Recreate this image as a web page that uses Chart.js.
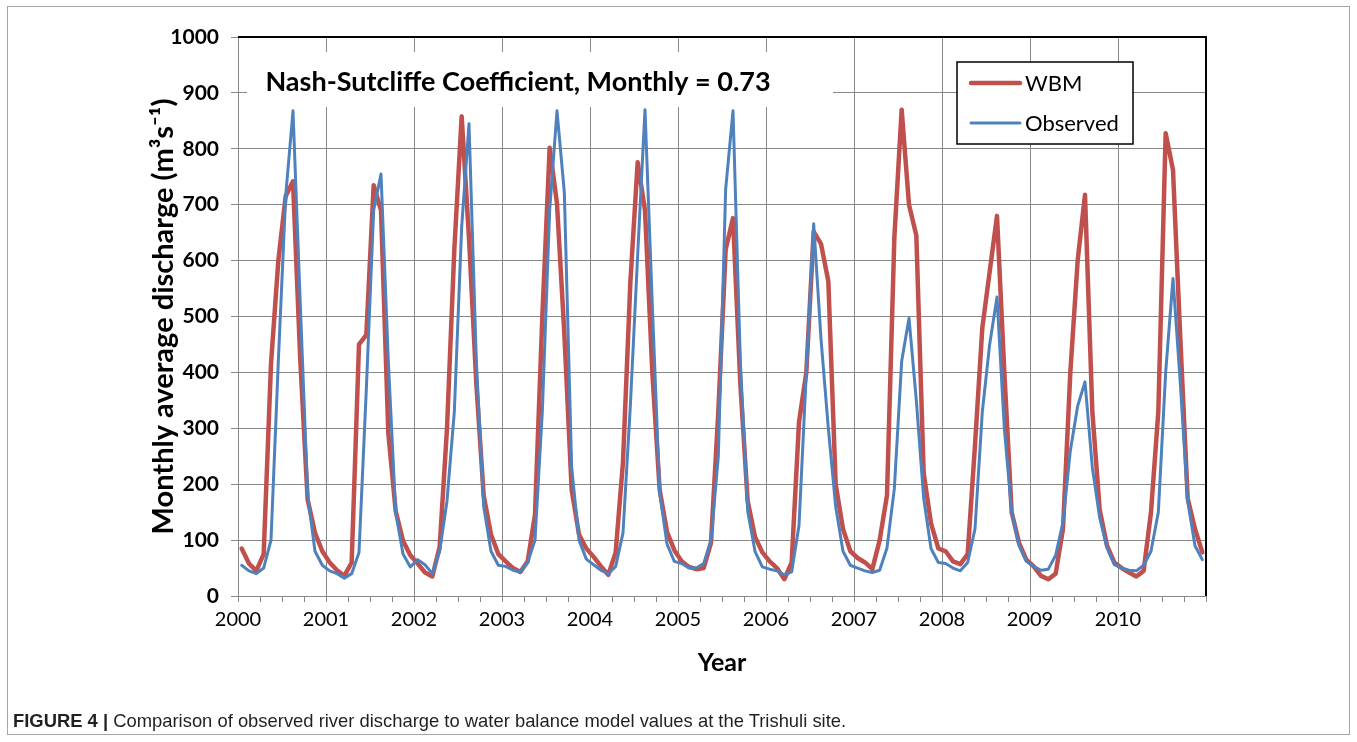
<!DOCTYPE html>
<html>
<head>
<meta charset="utf-8">
<script src="https://cdn.jsdelivr.net/npm/chart.js@4.4.1/dist/chart.umd.min.js"></script>
<style>
  html, body { margin: 0; padding: 0; background: #ffffff; }
  #wrap { position: relative; width: 1357px; height: 742px; overflow: hidden; background: #ffffff; }
  #frame { position: absolute; left: 7px; top: 6px; width: 1343px; height: 729px; border: 1px solid #a6a6a6; box-sizing: border-box; }
  #chart { position: absolute; left: 0; top: 0; }
  #caption { position: absolute; left: 13px; top: 710px; line-height: 22px; font-family: "Liberation Sans", Arial, sans-serif; font-size: 18.4px; color: #231f20; white-space: nowrap; }
  #caption b { font-weight: 700; }
</style>
</head>
<body>
<div id="wrap">
  <div id="frame"></div>
  <canvas id="chart" width="1357" height="742"></canvas>
  <div id="caption"><b>FIGURE 4 |</b> Comparison of observed river discharge to water balance model values at the Trishuli site.</div>
</div>
<script>
// Monthly average discharge at Trishuli, Jan 2000 - Dec 2010 (m3/s)
const years = [2000, 2001, 2002, 2003, 2004, 2005, 2006, 2007, 2008, 2009, 2010];

const wbmDischarge = [
  85, 58, 45, 75, 415, 600, 715, 742, 420, 172, 113, 80,   // 2000
  60, 46, 36, 60, 450, 467, 735, 690, 291, 152, 99, 73,    // 2001
  58, 42, 35, 88, 300, 620, 858, 640, 380, 180, 110, 75,   // 2002
  62, 50, 43, 62, 145, 500, 802, 702, 470, 190, 110, 85,   // 2003
  70, 53, 38, 78, 240, 560, 776, 690, 400, 190, 115, 82,   // 2004
  62, 52, 48, 50, 95, 330, 620, 676, 380, 170, 106, 78,    // 2005
  62, 50, 30, 60, 311, 400, 652, 630, 563, 200, 120, 80,   // 2006
  68, 60, 48, 100, 180, 640, 870, 700, 645, 220, 130, 85,  // 2007
  80, 62, 57, 75, 270, 480, 580, 680, 400, 150, 95, 65,    // 2008
  53, 36, 30, 40, 120, 400, 600, 718, 330, 155, 90, 60,    // 2009
  50, 42, 35, 45, 150, 330, 828, 762, 460, 175, 120, 78    // 2010
];

const observedDischarge = [
  55, 45, 40, 50, 100, 420, 715, 868, 520, 180, 80, 55,    // 2000
  45, 40, 32, 40, 78, 370, 690, 755, 420, 150, 75, 52,     // 2001
  65, 56, 40, 80, 170, 330, 660, 845, 420, 160, 80, 55,    // 2002
  53, 46, 43, 60, 100, 330, 690, 868, 722, 230, 100, 66,   // 2003
  56, 46, 40, 53, 113, 340, 610, 870, 520, 185, 93, 62,    // 2004
  58, 50, 50, 58, 100, 250, 728, 868, 420, 152, 80, 52,    // 2005
  48, 45, 38, 43, 126, 400, 666, 460, 300, 160, 80, 55,    // 2006
  50, 45, 42, 46, 86, 192, 420, 497, 350, 175, 85, 60,     // 2007
  58, 50, 45, 60, 120, 330, 450, 535, 300, 150, 90, 62,    // 2008
  53, 46, 48, 73, 132, 260, 340, 383, 230, 140, 86, 56,    // 2009
  50, 46, 45, 55, 80, 150, 400, 568, 380, 170, 90, 65      // 2010
];

const yTickValues = [0, 100, 200, 300, 400, 500, 600, 700, 800, 900, 1000];
const nashSutcliffeMonthly = 0.73;

const MONTHS = 12;
const TOTAL_MONTHS = years.length * MONTHS;
const FONT = "Lato, 'Open Sans', 'DejaVu Sans', sans-serif";
const GRID = '#878787';
const RED = '#c0504d';
const BLUE = '#4f81bd';

// each month is plotted at the middle of its slot on a month-count axis
const toPoints = arr => arr.map((v, i) => ({ x: i + 0.5, y: v }));

const series = [
  { label: 'WBM', values: wbmDischarge, color: RED, width: 4.5 },
  { label: 'Observed', values: observedDischarge, color: BLUE, width: 3 }
];

// white text box with the efficiency score
const scoreBox = {
  id: 'scoreBox',
  beforeDatasetsDraw(chart) {
    const { ctx } = chart;
    ctx.save();
    ctx.fillStyle = '#ffffff';
    ctx.fillRect(247, 52, 586, 55);
    ctx.fillStyle = '#000000';
    ctx.font = `bold 27px ${FONT}`;
    ctx.textAlign = 'center';
    ctx.textBaseline = 'middle';
    ctx.fillText('Nash-Sutcliffe Coefficient, Monthly = ' + nashSutcliffeMonthly.toFixed(2), 518, 82);
    ctx.restore();
  }
};

// black frame on the top and right sides of the plot area
const plotFrame = {
  id: 'plotFrame',
  afterDatasetsDraw(chart) {
    const { ctx, chartArea: a } = chart;
    ctx.save();
    ctx.strokeStyle = '#000000';
    ctx.lineWidth = 2;
    ctx.beginPath();
    ctx.moveTo(a.left, a.top);
    ctx.lineTo(a.right, a.top);
    ctx.lineTo(a.right, a.bottom);
    ctx.stroke();
    ctx.restore();
  }
};

// boxed legend inside the plot area
const boxLegend = {
  id: 'boxLegend',
  afterDatasetsDraw(chart) {
    const { ctx } = chart;
    const x0 = 957, y0 = 62, w = 176, h = 82;
    ctx.save();
    ctx.fillStyle = '#ffffff';
    ctx.fillRect(x0, y0, w, h);
    ctx.strokeStyle = '#000000';
    ctx.lineWidth = 1.5;
    ctx.strokeRect(x0, y0, w, h);
    ctx.font = `22px ${FONT}`;
    ctx.textAlign = 'left';
    ctx.textBaseline = 'middle';
    chart.data.datasets.slice().sort((a, b) => a.legendIndex - b.legendIndex).forEach((ds, i) => {
      const yy = y0 + 21 + i * 40;
      ctx.strokeStyle = ds.borderColor;
      ctx.lineWidth = ds.borderWidth;
      ctx.lineCap = 'round';
      ctx.beginPath();
      ctx.moveTo(971, yy);
      ctx.lineTo(1020, yy);
      ctx.stroke();
      ctx.fillStyle = '#000000';
      ctx.fillText(ds.label, 1025, yy + 1);
    });
    ctx.restore();
  }
};

new Chart(document.getElementById('chart'), {
  type: 'line',
  data: {
    datasets: series.map((s, i) => ({
      label: s.label,
      legendIndex: i,
      data: toPoints(s.values),
      borderColor: s.color,
      backgroundColor: s.color,
      borderWidth: s.width,
      pointRadius: 0,
      tension: 0,
      fill: false,
      borderJoinStyle: 'round',
      borderCapStyle: 'round',
      order: series.length - 1 - i
    }))
  },
  options: {
    responsive: false,
    devicePixelRatio: 1,
    animation: false,
    events: [],
    layout: { padding: { left: 146, right: 151, top: 37, bottom: 64 } },
    plugins: { legend: { display: false }, tooltip: { enabled: false }, title: { display: false } },
    scales: {
      x: {
        type: 'linear',
        min: 0,
        max: TOTAL_MONTHS,
        afterBuildTicks(scale) {
          const t = [];
          for (let v = 0; v <= TOTAL_MONTHS; v += 3) t.push({ value: v });
          scale.ticks = t;
        },
        afterFit(scale) { scale.height = 82; },
        ticks: {
          autoSkip: false,
          maxRotation: 0,
          padding: 6,
          color: '#000000',
          font: { family: FONT, size: 20 },
          callback(v) {
            const idx = v / MONTHS;
            return (v % MONTHS === 0 && idx < years.length) ? String(years[idx]) : '';
          }
        },
        grid: {
          color: c => (c.tick && c.tick.value % MONTHS === 0) ? GRID : 'rgba(0,0,0,0)',
          tickColor: GRID,
          tickLength: 6,
          lineWidth: 1
        },
        border: { color: GRID, width: 1 },
        title: { display: true, text: 'Year', color: '#000000', padding: 0, font: { family: FONT, size: 25, weight: 'bold' } }
      },
      y: {
        min: 0,
        max: 1000,
        afterBuildTicks(scale) { scale.ticks = yTickValues.map(v => ({ value: v })); },
        afterFit(scale) { scale.width = 92; },
        ticks: {
          padding: 12,
          color: '#000000',
          font: { family: FONT, size: 21, weight: 'bold' },
          callback: v => String(v)
        },
        grid: { color: GRID, tickColor: GRID, tickLength: 7, lineWidth: 1 },
        border: { color: GRID, width: 1 },
        title: { display: true, text: 'Monthly average discharge (m³s⁻¹)', color: '#000000', padding: 0, font: { family: FONT, size: 29, weight: 'bold' } }
      }
    }
  },
  plugins: [scoreBox, plotFrame, boxLegend]
});
</script>
</body>
</html>
